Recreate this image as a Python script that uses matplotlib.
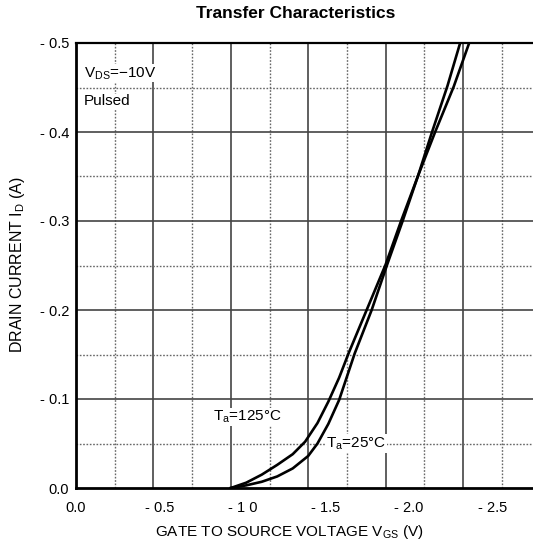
import numpy as np
import matplotlib
matplotlib.use("Agg")
import matplotlib.pyplot as plt

plt.rcParams['font.family'] = ['Liberation Sans', 'DejaVu Sans']
plt.rcParams['mathtext.fontset'] = 'custom'
plt.rcParams['mathtext.rm'] = 'Liberation Sans'

# Gate voltage magnitude (V) and drain current magnitude (A)
vgs_125 = [1.00, 1.10, 1.20, 1.30, 1.40, 1.48, 1.56, 1.63, 1.70, 1.76, 1.88,
           2.00, 2.10, 2.21, 2.32, 2.44, 2.55]
id_125 = [0.000, 0.006, 0.015, 0.026, 0.038, 0.052, 0.073, 0.097, 0.124, 0.151, 0.201,
          0.251, 0.300, 0.351, 0.400, 0.451, 0.505]

vgs_25 = [1.00, 1.10, 1.20, 1.30, 1.40, 1.50, 1.56, 1.63, 1.70, 1.80, 1.91,
          2.01, 2.11, 2.21, 2.30, 2.40, 2.49]
id_25 = [0.000, 0.003, 0.007, 0.013, 0.022, 0.036, 0.050, 0.072, 0.099, 0.151, 0.200,
         0.251, 0.300, 0.351, 0.400, 0.452, 0.505]

x_labels = ['0.0', '- 0.5', '- 1 0', '- 1.5', '- 2.0', '- 2.5']
y_labels = ['0.0', '- 0.1', '- 0.2', '- 0.3', '- 0.4', '- 0.5']

fig = plt.figure(figsize=(5.33, 5.49), dpi=100)
ax = fig.add_axes([76 / 533, 61 / 549, 457 / 533, 445 / 549])

# grid: solid every 0.5 V / 0.1 A, dotted in between
for i, gx in enumerate(np.arange(0.25, 3.0, 0.25)):
    if i % 2 == 1:
        ax.axvline(gx, color='#444444', lw=1.2, zorder=1)
    else:
        ax.axvline(gx, color='#666666', lw=1.0, ls=(0, (1.2, 1.2)), zorder=1)
for i, gy in enumerate(np.arange(0.05, 0.5, 0.05)):
    if i % 2 == 1:
        ax.axhline(gy, color='#444444', lw=1.2, zorder=1)
    else:
        ax.axhline(gy, color='#666666', lw=1.0, ls=(0, (1.2, 1.2)), zorder=1)

ax.plot(vgs_125, id_125, color='black', lw=1.9, zorder=3)
ax.plot(vgs_25, id_25, color='black', lw=1.9, zorder=3)

ax.set_xlim(0, 457 / 154.8)
ax.set_ylim(0, 0.5)

# tick labels in the original are spaced slightly wider than the grid
ax.set_xticks(np.arange(len(x_labels)) * 0.538)
ax.set_xticklabels(x_labels, fontsize=10.5)
ax.set_yticks(np.arange(len(y_labels)) * 0.1)
ax.set_yticklabels(y_labels, fontsize=10.5)
ax.tick_params(axis='both', length=0)
ax.tick_params(axis='x', pad=9)
ax.tick_params(axis='y', pad=5)

ax.spines['right'].set_visible(False)
ax.spines['left'].set_linewidth(2)
ax.spines['bottom'].set_linewidth(2)
ax.spines['top'].set_linewidth(1.6)

box = dict(facecolor='white', edgecolor='none', pad=0.5)
ax.text(0.05, 0.462, r'V$_{\mathrm{DS}}$=−10V', fontsize=11, bbox=box, zorder=4)
ax.text(0.05, 0.430, 'Pulsed', fontsize=11, bbox=box, zorder=4)
ax.text(0.885, 0.076, r'T$_{\mathrm{a}}$=125°C', fontsize=11, bbox=box, zorder=4)
ax.text(1.615, 0.046, r'T$_{\mathrm{a}}$=25°C', fontsize=11, bbox=box, zorder=4)

fig.text(289 / 533, 1 - 532 / 549, r'GATE TO SOURCE VOLTAGE V$_{\mathrm{GS}}$ (V)',
         fontsize=11, ha='center', va='center')
fig.text(18 / 533, 1 - 265 / 549, r'DRAIN CURRENT I$_{\mathrm{D}}$ (A)', fontsize=11.5,
         rotation=90, ha='center', va='center')
fig.text(296 / 533, 1 - 14 / 549, 'Transfer Characteristics', fontsize=12.5,
         fontweight='bold', ha='center', va='center')

fig.savefig('out.png', dpi=100)
